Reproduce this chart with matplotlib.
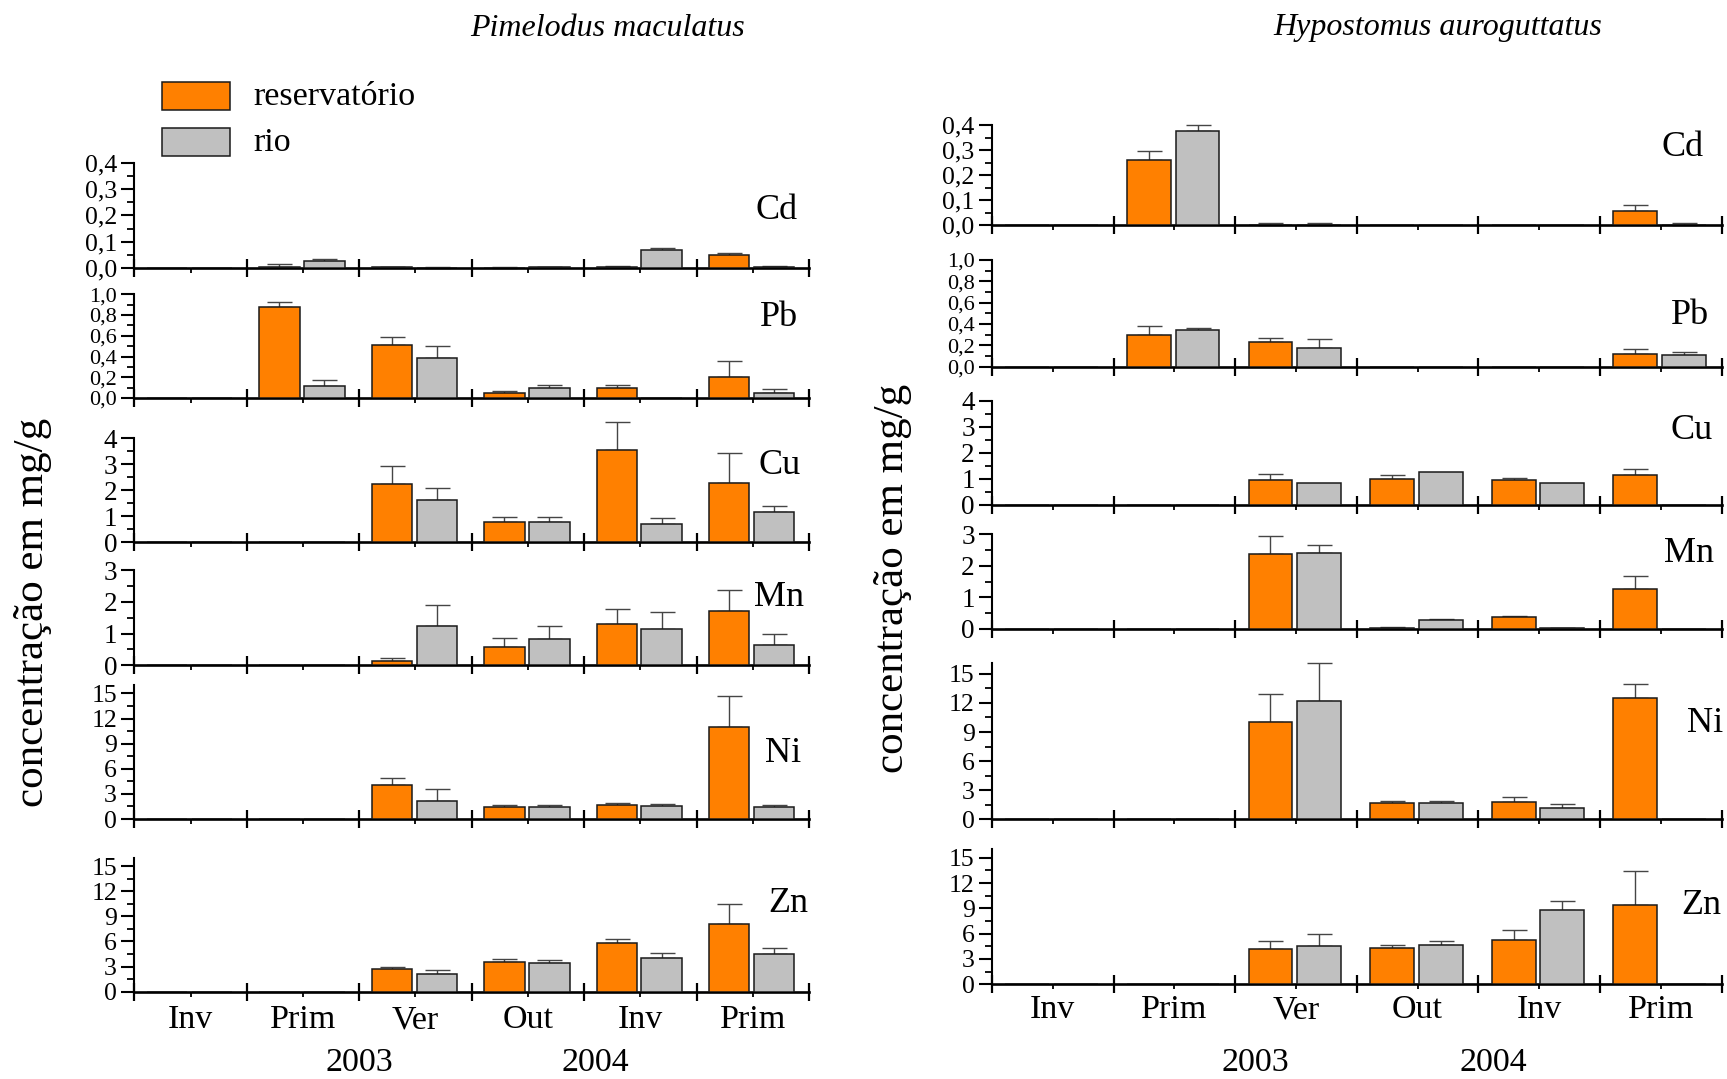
import numpy as np
import matplotlib
matplotlib.use("Agg")
import matplotlib.pyplot as plt
from matplotlib.patches import Rectangle
from matplotlib.ticker import FixedLocator, FuncFormatter

nan = np.nan

# ---------------------------------------------------------------- data
seasons = ["Inv", "Prim", "Ver", "Out", "Inv", "Prim"]
years = ["2003", "2004"]
elements = ["Cd", "Pb", "Cu", "Mn", "Ni", "Zn"]
species = ["Pimelodus maculatus", "Hypostomus auroguttatus"]
series_names = ["reservatório", "rio"]

# Pimelodus maculatus: mean concentration (mg/g) and upper error
pim_res = {
    "Cd": [nan, 0.005, 0.002, 0.001, 0.004, 0.049],
    "Pb": [nan, 0.881, 0.511, 0.048, 0.093, 0.203],
    "Cu": [nan, nan, 2.26, 0.78, 3.56, 2.27],
    "Mn": [nan, nan, 0.15, 0.59, 1.29, 1.72],
    "Ni": [nan, nan, 4.02, 1.39, 1.63, 10.96],
    "Zn": [nan, nan, 2.67, 3.49, 5.82, 8.03],
}
pim_res_err = {
    "Cd": [nan, 0.012, 0.002, 0.001, 0.004, 0.009],
    "Pb": [nan, 0.048, 0.074, 0.016, 0.029, 0.157],
    "Cu": [nan, nan, 0.69, 0.21, 1.08, 1.18],
    "Mn": [nan, nan, 0.07, 0.28, 0.47, 0.64],
    "Ni": [nan, nan, 0.92, 0.24, 0.32, 3.78],
    "Zn": [nan, nan, 0.32, 0.45, 0.52, 2.40],
}
pim_rio = {
    "Cd": [nan, 0.028, 0.001, 0.002, 0.067, 0.004],
    "Pb": [nan, 0.119, 0.383, 0.093, nan, 0.048],
    "Cu": [nan, nan, 1.615, 0.77, 0.72, 1.18],
    "Mn": [nan, nan, 1.25, 0.84, 1.15, 0.65],
    "Ni": [nan, nan, 2.19, 1.39, 1.59, 1.39],
    "Zn": [nan, nan, 2.11, 3.41, 3.98, 4.55],
}
pim_rio_err = {
    "Cd": [nan, 0.007, 0.001, 0.003, 0.008, 0.004],
    "Pb": [nan, 0.055, 0.115, 0.029, nan, 0.036],
    "Cu": [nan, nan, 0.49, 0.22, 0.20, 0.23],
    "Mn": [nan, nan, 0.64, 0.40, 0.52, 0.32],
    "Ni": [nan, nan, 1.35, 0.32, 0.24, 0.32],
    "Zn": [nan, nan, 0.50, 0.41, 0.66, 0.63],
}

# Hypostomus auroguttatus
hyp_res = {
    "Cd": [nan, 0.262, 0.002, nan, nan, 0.057],
    "Pb": [nan, 0.300, 0.228, nan, nan, 0.116],
    "Cu": [nan, nan, 0.946, 1.00, 0.946, 1.15],
    "Mn": [nan, nan, 2.36, 0.03, 0.37, 1.25],
    "Ni": [nan, nan, 10.07, 1.71, 1.82, 12.50],
    "Zn": [nan, nan, 4.23, 4.31, 5.30, 9.45],
}
hyp_res_err = {
    "Cd": [nan, 0.034, 0.006, nan, nan, 0.024],
    "Pb": [nan, 0.078, 0.044, nan, nan, 0.047],
    "Cu": [nan, nan, 0.26, 0.14, 0.10, 0.23],
    "Mn": [nan, nan, 0.57, 0.02, 0.03, 0.41],
    "Ni": [nan, nan, 2.84, 0.21, 0.44, 1.47],
    "Zn": [nan, nan, 0.93, 0.38, 1.15, 4.01],
}
hyp_rio = {
    "Cd": [nan, 0.375, 0.003, nan, nan, 0.003],
    "Pb": [nan, 0.344, 0.178, nan, nan, 0.113],
    "Cu": [nan, nan, 0.84, 1.25, 0.83, nan],
    "Mn": [nan, nan, 2.41, 0.27, 0.02, nan],
    "Ni": [nan, nan, 12.16, 1.71, 1.16, nan],
    "Zn": [nan, nan, 4.57, 4.67, 8.80, nan],
}
hyp_rio_err = {
    "Cd": [nan, 0.024, 0.006, nan, nan, 0.008],
    "Pb": [nan, 0.022, 0.078, nan, nan, 0.021],
    "Cu": [nan, nan, nan, nan, nan, nan],
    "Mn": [nan, nan, 0.23, 0.04, 0.02, nan],
    "Ni": [nan, nan, 3.97, 0.17, 0.45, nan],
    "Zn": [nan, nan, 1.41, 0.52, 1.12, nan],
}

# y-axis ranges and tick steps per element
y_top_left = {"Cd": 0.4, "Pb": 1.0, "Cu": 4, "Mn": 3, "Ni": 16, "Zn": 16}
y_top_right = {"Cd": 0.4, "Pb": 1.0, "Cu": 4, "Mn": 3, "Ni": 16.15, "Zn": 16}
y_major = {"Cd": 0.1, "Pb": 0.2, "Cu": 1, "Mn": 1, "Ni": 3, "Zn": 3}
y_major_max = {"Cd": 0.4, "Pb": 1.0, "Cu": 4, "Mn": 3, "Ni": 15, "Zn": 15}
decimals = {"Cd": 1, "Pb": 1, "Cu": 0, "Mn": 0, "Ni": 0, "Zn": 0}
tick_size = {"Cd": 18.5, "Pb": 16, "Cu": 19.5, "Mn": 19.5, "Ni": 18.5, "Zn": 18.5}

# year labels sit near the season boundaries (in category units)
year_x_left = [1.5, 3.6]
year_x_right = [1.67, 3.62]

# ---------------------------------------------------------------- style
plt.rcParams["font.family"] = ["Liberation Serif", "DejaVu Serif"]
ORANGE = "#FF8000"
GREY = "#C0C0C0"
EDGE = "#1a1a1a"
ERRC = "#454545"

W, H = 1727, 1079
fig = plt.figure(figsize=(W / 100, H / 100), dpi=100)


def px_axes(x0, x1, top, bottom):
    return fig.add_axes([x0 / W, 1 - bottom / H, (x1 - x0) / W, (bottom - top) / H])


def fmt_for(el):
    d = decimals[el]
    return FuncFormatter(lambda v, p: (f"{v:.{d}f}").replace(".", ","))


left_rows = {"Cd": (162.7, 268.0), "Pb": (294.3, 398.0), "Cu": (438.3, 542.3),
             "Mn": (570.0, 665.3), "Ni": (685.0, 819.0), "Zn": (857.7, 991.7)}
right_rows = {"Cd": (125.0, 225.3), "Pb": (260.0, 366.7), "Cu": (400.7, 505.0),
              "Mn": (534.0, 629.0), "Ni": (662.7, 819.3), "Zn": (849.3, 984.3)}

left_lbl = {"Cd": (777, 210), "Pb": (779, 318), "Cu": (780, 465),
            "Mn": (779, 597), "Ni": (783, 753), "Zn": (788, 903)}
right_lbl = {"Cd": (1683, 147), "Pb": (1690, 316), "Cu": (1692, 431),
             "Mn": (1689, 553), "Ni": (1705, 724), "Zn": (1701, 906)}

x = np.arange(len(seasons))
BW = 0.36
OFF_RES, OFF_RIO = -0.21, 0.19


def draw_column(x0, x1, rows, ytop, res, res_err, rio, rio_err, lbl_pos,
                cat_off_px, year_off_px, year_x):
    axes = {}
    for el in elements:
        top, bottom = rows[el]
        ax = px_axes(x0, x1, top, bottom)
        axes[el] = ax
        r = np.array(res[el], float)
        re = np.array(res_err[el], float)
        g = np.array(rio[el], float)
        ge = np.array(rio_err[el], float)

        ax.bar(x + OFF_RES, np.nan_to_num(r), BW, color=ORANGE,
               edgecolor=EDGE, linewidth=1.1, zorder=3)
        ax.bar(x + OFF_RIO, np.nan_to_num(g), BW, color=GREY,
               edgecolor=EDGE, linewidth=1.1, zorder=3)
        for xs, v, e in ((x + OFF_RES, r, re), (x + OFF_RIO, g, ge)):
            ok = ~np.isnan(v) & ~np.isnan(e)
            eb = ax.errorbar(xs[ok], v[ok], yerr=[np.zeros(ok.sum()), e[ok]],
                             fmt="none", ecolor=ERRC, elinewidth=1.0,
                             capsize=9, capthick=1.0, zorder=2)
            for art in eb.lines[1] + eb.lines[2]:
                art.set_clip_on(False)

        ax.set_xlim(-0.5, len(seasons) - 0.5)
        ax.set_ylim(0, ytop[el])
        for s in ("top", "right"):
            ax.spines[s].set_visible(False)
        ax.spines["bottom"].set_linewidth(1.9)
        ax.spines["left"].set_linewidth(1.5)
        ax.patch.set_alpha(0)

        yt = np.round(np.arange(0, y_major_max[el] + 1e-9, y_major[el]), 6)
        ax.yaxis.set_major_locator(FixedLocator(yt))
        ymin = np.round(np.arange(y_major[el] / 2, ytop[el] - 1e-9, y_major[el]), 6)
        ax.yaxis.set_minor_locator(FixedLocator(ymin))
        ax.yaxis.set_major_formatter(fmt_for(el))
        ax.tick_params(axis="y", which="major", direction="out", length=9.5,
                       width=1.5, labelsize=tick_size[el], pad=3)
        ax.tick_params(axis="y", which="minor", direction="out", length=5,
                       width=1.3)

        ax.xaxis.set_major_locator(FixedLocator(np.arange(-0.5, len(seasons), 1.0)))
        ax.xaxis.set_minor_locator(FixedLocator(x))
        ax.tick_params(axis="x", which="major", direction="inout", length=13,
                       width=1.6, labelbottom=False)
        ax.tick_params(axis="x", which="minor", direction="out", length=3.5,
                       width=1.3)

        lx, ly = lbl_pos[el]
        fig.text(lx / W, 1 - ly / H, el, fontsize=26, ha="center", va="center")

    bottom_ax = axes[elements[-1]]
    for i, s in enumerate(seasons):
        bottom_ax.annotate(s, xy=(i, 0), xycoords=bottom_ax.get_xaxis_transform(),
                           xytext=(0, -cat_off_px * 0.72), textcoords="offset points",
                           ha="center", va="center", fontsize=24.5,
                           annotation_clip=False)
    for yx, yl in zip(year_x, years):
        bottom_ax.annotate(yl, xy=(yx, 0), xycoords=bottom_ax.get_xaxis_transform(),
                           xytext=(0, -year_off_px * 0.72), textcoords="offset points",
                           ha="center", va="center", fontsize=24.5,
                           annotation_clip=False)
    return axes


draw_column(134.4, 809.0, left_rows, y_top_left, pim_res, pim_res_err,
            pim_rio, pim_rio_err, left_lbl, 1020 - 991.7, 1063 - 991.7, year_x_left)
draw_column(992.0, 1721.6, right_rows, y_top_right, hyp_res, hyp_res_err,
            hyp_rio, hyp_rio_err, right_lbl, 1010 - 984.3, 1063 - 984.3, year_x_right)

# species titles
fig.text(607.5 / W, 1 - 28 / H, species[0], fontsize=23, style="italic",
         ha="center", va="center")
fig.text(1438 / W, 1 - 28 / H, species[1], fontsize=23, style="italic",
         ha="center", va="center")

# shared y labels
fig.text(33 / W, 1 - 612 / H, "concentração em mg/g", fontsize=31,
         rotation=90, ha="center", va="center")
fig.text(893 / W, 1 - 578 / H, "concentração em mg/g", fontsize=31,
         rotation=90, ha="center", va="center")

# legend
for (ytop, ybot), col, name in zip(((82, 110), (128, 156)), (ORANGE, GREY), series_names):
    fig.patches.append(Rectangle((162 / W, 1 - ybot / H), (230 - 162) / W,
                                 (ybot - ytop) / H, transform=fig.transFigure,
                                 facecolor=col, edgecolor=EDGE, linewidth=1.1))
    fig.text(253 / W, 1 - ((ytop + ybot) / 2 + 1) / H, name, fontsize=24.5,
             ha="left", va="center")

fig.savefig("out.png", dpi=100)
